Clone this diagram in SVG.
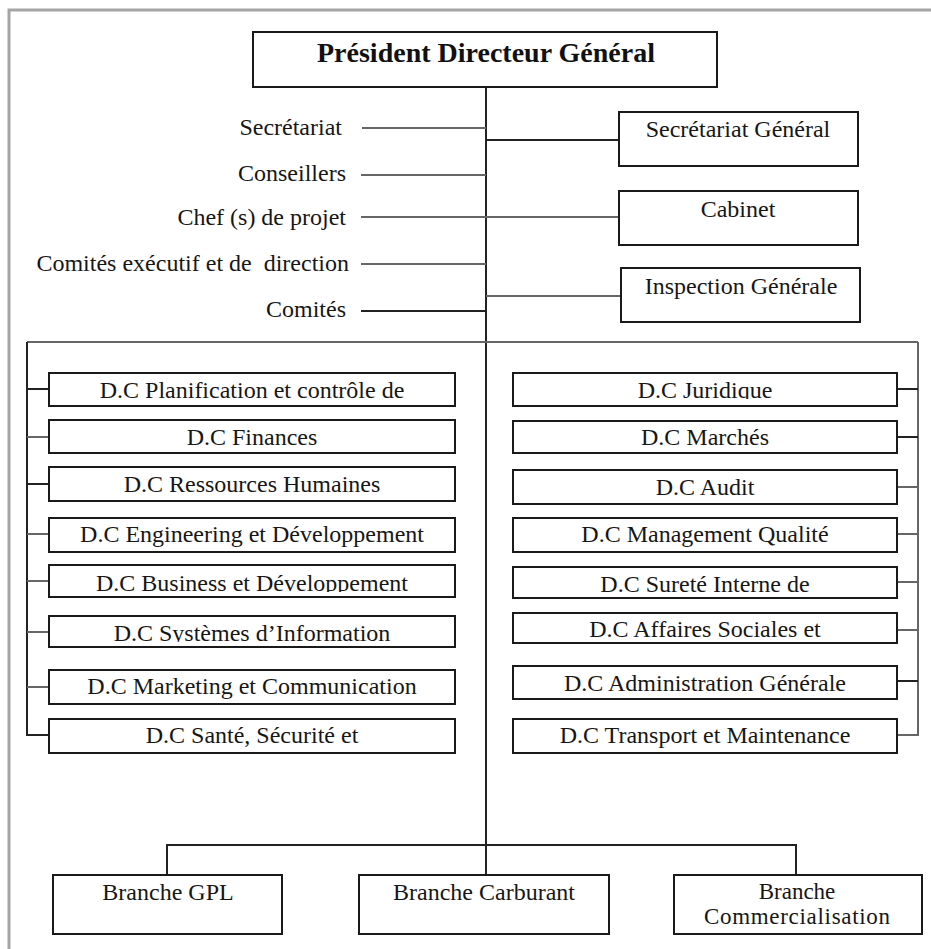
<svg xmlns="http://www.w3.org/2000/svg" width="931" height="949" viewBox="0 0 931 949">
<style>
.bg{fill:#ffffff}
.box{fill:#ffffff;stroke:#1a1a1a;stroke-width:2}
.t{font-family:"Liberation Serif","Times New Roman",serif;font-size:24px;fill:#161616}
.s{font-size:23px}
.c{text-anchor:middle}
.r{text-anchor:end}
.title{font-family:"Liberation Serif","Times New Roman",serif;font-size:28px;font-weight:bold;fill:#111;text-anchor:middle}
.ln{fill:none;stroke:#222;stroke-width:2}
.lg{fill:none;stroke:#666;stroke-width:2}
.frame{fill:none;stroke:#a5a5a5;stroke-width:3}
</style>
<defs>
<clipPath id="clipBiz"><rect x="49" y="565" width="404" height="27"/></clipPath>
<clipPath id="clipSys"><rect x="49" y="616" width="404" height="26"/></clipPath>
<clipPath id="clipJur"><rect x="513" y="373" width="384" height="26"/></clipPath>
</defs>
<rect class="bg" x="0" y="0" width="931" height="949"/>
<g id="frame">
<path class="frame" d="M9,949 V10 H931"/>
</g>
<g id="connectors">
<path class="ln" d="M486,87 V875"/>
<path class="lg" d="M362,128 H486"/>
<path class="lg" d="M361,175 H486"/>
<path class="lg" d="M361,217 H619"/>
<path class="lg" d="M361,264 H486"/>
<path class="ln" d="M361,311 H486"/>
<path class="ln" d="M486,140 H619"/>
<path class="lg" d="M486,296 H621"/>
<path class="lg" d="M27,342 H918"/>
<path class="ln" d="M27,342 V735 H49"/>
<path class="ln" d="M27,389 H49"/>
<path class="lg" d="M27,437 H49"/>
<path class="ln" d="M27,484 H49"/>
<path class="lg" d="M27,534 H49"/>
<path class="lg" d="M27,581 H49"/>
<path class="lg" d="M27,632 H49"/>
<path class="lg" d="M27,687 H49"/>
<path class="lg" d="M918,342 V735 H897"/>
<path class="ln" d="M897,389 H918"/>
<path class="ln" d="M897,437 H918"/>
<path class="lg" d="M897,487 H918"/>
<path class="lg" d="M897,534 H918"/>
<path class="lg" d="M897,582 H918"/>
<path class="lg" d="M897,630 H918"/>
<path class="ln" d="M897,681 H918"/>
<path class="ln" d="M167,875 V845 H796 V875"/>
</g>
<g id="pdg"><rect class="box" x="253" y="32" width="464" height="55"/><text class="title" x="486" y="62">Président Directeur Général</text></g>
<g id="lbl-secretariat"><text class="t r" x="342" y="135">Secrétariat</text></g>
<g id="lbl-conseillers"><text class="t r" x="346" y="181">Conseillers</text></g>
<g id="lbl-chef"><text class="t r" x="346" y="225">Chef (s) de projet</text></g>
<g id="lbl-comites-exec"><text class="t r" x="349" y="271">Comités exécutif et de&#160; direction</text></g>
<g id="lbl-comites"><text class="t r" x="346" y="317">Comités</text></g>
<g id="sg"><rect class="box" x="619" y="112" width="239" height="54"/><text class="t c" x="738" y="137">Secrétariat Général</text></g>
<g id="cabinet"><rect class="box" x="619" y="191" width="239" height="54"/><text class="t c" x="738" y="217">Cabinet</text></g>
<g id="inspection"><rect class="box" x="621" y="268" width="239" height="54"/><text class="t c" x="741" y="294">Inspection Générale</text></g>
<g id="dc-planification"><rect class="box" x="49" y="373" width="406" height="33"/><text class="t c" x="252" y="398">D.C Planification et contrôle de</text></g>
<g id="dc-finances"><rect class="box" x="49" y="420" width="406" height="33"/><text class="t c" x="252" y="445">D.C Finances</text></g>
<g id="dc-rh"><rect class="box" x="49" y="467" width="406" height="34"/><text class="t c" x="252" y="492">D.C Ressources Humaines</text></g>
<g id="dc-engineering"><rect class="box" x="49" y="518" width="406" height="34"/><text class="t c" x="252" y="542">D.C Engineering et Développement</text></g>
<g id="dc-business"><rect class="box" x="49" y="565" width="406" height="32"/><text class="t c" x="252" y="591" clip-path="url(#clipBiz)">D.C Business et Développement</text></g>
<g id="dc-systemes"><rect class="box" x="49" y="616" width="406" height="31"/><text class="t c" x="252" y="641" clip-path="url(#clipSys)">D.C Systèmes d’Information</text></g>
<g id="dc-marketing"><rect class="box" x="49" y="670" width="406" height="34"/><text class="t c" x="252" y="694">D.C Marketing et Communication</text></g>
<g id="dc-sante"><rect class="box" x="49" y="719" width="406" height="34"/><text class="t c" x="252" y="743">D.C Santé, Sécurité et</text></g>
<g id="dc-juridique"><rect class="box" x="513" y="373" width="384" height="33"/><text class="t c" x="705" y="398" clip-path="url(#clipJur)">D.C Juridique</text></g>
<g id="dc-marches"><rect class="box" x="513" y="421" width="384" height="32"/><text class="t c" x="705" y="445">D.C Marchés</text></g>
<g id="dc-audit"><rect class="box" x="513" y="470" width="384" height="34"/><text class="t c" x="705" y="495">D.C Audit</text></g>
<g id="dc-qualite"><rect class="box" x="513" y="518" width="384" height="34"/><text class="t c" x="705" y="542">D.C Management Qualité</text></g>
<g id="dc-surete"><rect class="box" x="513" y="567" width="384" height="31"/><text class="t c" x="705" y="592">D.C Sureté Interne de</text></g>
<g id="dc-affaires"><rect class="box" x="513" y="613" width="384" height="30"/><text class="t c" x="705" y="637">D.C Affaires Sociales et</text></g>
<g id="dc-administration"><rect class="box" x="513" y="666" width="384" height="33"/><text class="t c" x="705" y="691">D.C Administration Générale</text></g>
<g id="dc-transport"><rect class="box" x="513" y="719" width="384" height="34"/><text class="t c" x="705" y="743">D.C Transport et Maintenance</text></g>
<g id="branche-gpl"><rect class="box" x="53" y="875" width="229" height="59"/><text class="t c" x="168" y="900">Branche GPL</text></g>
<g id="branche-carburant"><rect class="box" x="359" y="875" width="250" height="59"/><text class="t c" x="484" y="900">Branche Carburant</text></g>
<g id="branche-commercialisation"><rect class="box" x="674" y="875" width="248" height="59"/><text class="t c s" x="797" y="899">Branche</text><text class="t c s" x="797" y="924" textLength="186">Commercialisation</text></g>
</svg>
